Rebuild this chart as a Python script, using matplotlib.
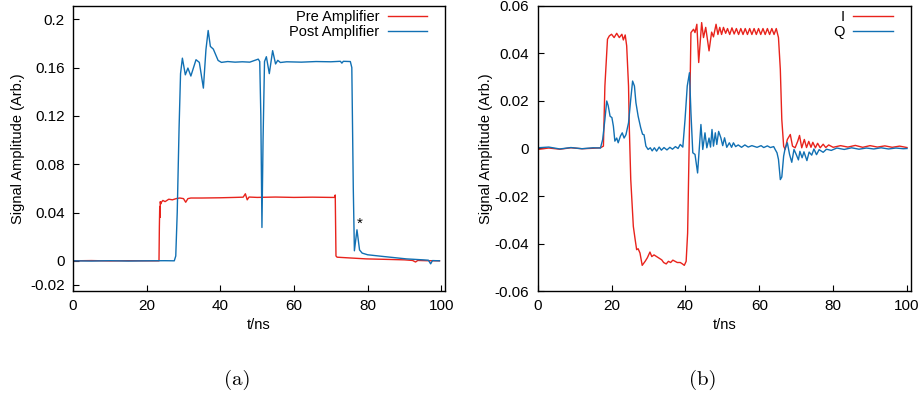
import matplotlib
matplotlib.use('Agg')
import matplotlib.pyplot as plt

plt.rcParams['font.family'] = ['Liberation Sans', 'DejaVu Sans']

# (a) pre / post amplifier: (t in ns, amplitude)
pre_pts = [(0, 0), (5, 0.0002), (10, -0.0001), (15, 0.0001), (20, 0), (23.35, 0),
           (23.45, 0.028), (23.55, 0.045), (23.62, 0.036), (23.7, 0.049), (23.8, 0.047),
           (24.0, 0.0485), (24.4, 0.050), (25.0, 0.049), (26.0, 0.051), (27.0, 0.0505),
           (28.0, 0.0515), (29.0, 0.052), (30.0, 0.0515), (30.6, 0.0485), (31.2, 0.0515),
           (32.0, 0.052), (35.0, 0.052), (40.0, 0.0522), (44.0, 0.0525), (46.2, 0.0527),
           (46.8, 0.0555), (47.3, 0.0505), (47.8, 0.0528), (50.0, 0.0525), (55.0, 0.0528),
           (60.0, 0.0525), (65.0, 0.0527), (70.0, 0.0525), (71.0, 0.0525), (71.2, 0.0545),
           (71.4, 0.004), (71.7, 0.003), (75.0, 0.0024), (79.6, 0.0016), (85.0, 0.0012),
           (90.0, 0.0008), (92.2, 0.0003), (93.0, -0.001), (93.6, 0.0003), (96.0, 0.0001),
           (99.5, 0)]

post_pts = [(0, 0), (5, -0.0002), (10, 0.0001), (15, -0.0002), (20, 0), (25, 0.0001),
            (27.5, 0), (27.9, 0.004), (28.3, 0.04), (28.8, 0.11), (29.2, 0.155),
            (29.7, 0.1678), (30.5, 0.154), (31.2, 0.1596), (32.0, 0.153), (33.4, 0.1665),
            (34.3, 0.1643), (35.4, 0.143), (36.1, 0.175), (36.7, 0.1907), (37.3, 0.1775),
            (38.1, 0.1753), (39.4, 0.1659), (40.3, 0.1643), (42.0, 0.165), (44.0, 0.1645),
            (46.0, 0.1648), (48.0, 0.1645), (50.3, 0.167), (50.7, 0.165), (51.0, 0.12),
            (51.3, 0.0276), (51.6, 0.10), (52.0, 0.165), (52.5, 0.169), (53.3, 0.155),
            (54.2, 0.174), (55.0, 0.163), (55.6, 0.166), (56.3, 0.1642), (58.0, 0.1648),
            (62.0, 0.1645), (66.0, 0.165), (70.0, 0.1648), (72.6, 0.1652), (73.0, 0.1637),
            (73.4, 0.1652), (75.3, 0.165), (75.7, 0.16), (76.1, 0.06), (76.4, 0.0083),
            (77.1, 0.0257), (77.8, 0.009), (78.5, 0.0064), (80.0, 0.005), (84.2, 0.0036),
            (90.5, 0.0016), (95.0, 0.0008), (96.5, 0.0005), (97.1, -0.0025), (97.6, 0.0002),
            (99.5, 0)]

# (b) I / Q channels
i_pts = [(0, -0.0004), (3, 0.0002), (6, -0.0003), (9, 0.0003), (12, -0.0001), (15, 0.0001),
         (17.0, 0.0003), (17.8, 0.001), (18.2, 0.0263), (18.9, 0.046), (19.4, 0.0474),
         (20.0, 0.0481), (20.7, 0.0467), (21.4, 0.0485), (22.1, 0.0467), (22.8, 0.0481),
         (23.2, 0.0457), (23.7, 0.0478), (24.1, 0.0432), (24.6, 0.0263), (24.8, 0.0094),
         (25.2, -0.013), (25.5, -0.0215), (25.9, -0.0328), (26.4, -0.0384), (26.8, -0.0426),
         (27.2, -0.0422), (27.7, -0.044), (28.3, -0.0492), (29.1, -0.0475), (29.7, -0.046),
         (30.4, -0.0436), (30.9, -0.0455), (31.5, -0.0448), (32.2, -0.0455), (32.9, -0.0462),
         (33.6, -0.0469), (34.1, -0.048), (34.8, -0.0486), (35.4, -0.0475), (36.0, -0.048),
         (36.6, -0.047), (37.2, -0.0475), (37.8, -0.048), (38.6, -0.048), (39.2, -0.0486),
         (39.7, -0.0492), (40.2, -0.0475), (40.6, -0.0356), (41.0, 0.0), (41.5, 0.0488),
         (42.2, 0.0502), (42.6, 0.0488), (43.1, 0.0523), (43.6, 0.0362), (44.4, 0.053),
         (44.9, 0.0467), (45.5, 0.051), (46.4, 0.0411), (47.1, 0.049), (47.6, 0.047),
         (48.3, 0.0523), (48.8, 0.048), (49.3, 0.051), (49.8, 0.048), (50.3, 0.051),
         (50.9, 0.0485), (51.4, 0.0505), (52.0, 0.048), (52.6, 0.0508), (53.2, 0.0482),
         (53.8, 0.0505), (54.4, 0.048), (55.0, 0.0505), (55.6, 0.048), (56.2, 0.0505),
         (56.8, 0.048), (57.4, 0.0505), (58.0, 0.048), (58.6, 0.0505), (59.2, 0.048),
         (59.8, 0.0505), (60.4, 0.048), (61.0, 0.0505), (61.6, 0.048), (62.2, 0.0505),
         (62.8, 0.048), (63.4, 0.0505), (64.0, 0.048), (64.6, 0.0505), (65.2, 0.0467),
         (65.7, 0.0333), (66.1, 0.0122), (66.6, 0.001), (67.0, -0.0004), (67.6, 0.0038),
         (68.4, 0.0059), (69.0, 0.001), (69.7, 0.0003), (70.4, 0.003), (70.9, 0.0055),
         (71.5, 0.0003), (72.2, 0.0038), (72.8, 0.0004), (73.4, 0.003), (74.0, 0.0005),
         (74.5, 0.0026), (75.2, 0.0003), (75.8, 0.0022), (76.5, 0.0003), (77.3, 0.0018),
         (78.0, 0.0004), (78.8, 0.0015), (80.0, 0.0005), (82.0, 0.0012), (84.0, 0.0006),
         (86.0, 0.0013), (88.0, 0.0005), (90.0, 0.0012), (92.0, 0.0006), (94.0, 0.0011),
         (96.0, 0.0005), (98.0, 0.0010), (100.0, 0.0004)]

q_pts = [(0, 0.0003), (3, 0.0006), (6, -0.0002), (9, 0.0004), (12, -0.0001), (15, 0.0003),
         (17.0, 0.0002), (17.6, 0.0038), (18.2, 0.0122), (18.7, 0.02), (19.1, 0.018),
         (19.6, 0.0136), (20.1, 0.013), (20.5, 0.0094), (20.9, 0.0031), (21.4, 0.0044),
         (21.8, 0.0024), (22.4, 0.0052), (22.9, 0.0066), (23.4, 0.0044), (23.9, 0.0058),
         (24.6, 0.0108), (25.2, 0.0207), (25.7, 0.0284), (26.2, 0.0263), (26.6, 0.0193),
         (27.2, 0.0136), (27.9, 0.0087), (28.4, 0.006), (28.8, 0.0058), (29.3, 0.001),
         (29.9, -0.0004), (30.5, 0.0003), (31.0, -0.001), (31.6, 0.0003), (32.2, -0.0011),
         (32.9, 0.0006), (33.5, -0.0007), (34.2, 0.0004), (35.0, -0.0006), (35.8, 0.0005),
         (36.5, -0.0003), (37.3, 0.0008), (38.0, 0.0), (38.6, 0.0017), (39.3, 0.0006),
         (39.9, 0.0122), (40.5, 0.0263), (41.1, 0.0319), (41.5, 0.015), (42.0, -0.0018),
         (42.6, -0.0025), (43.3, -0.0103), (43.8, 0.001), (44.2, 0.0101), (44.7, -0.0004),
         (45.3, 0.0066), (45.8, 0.0003), (46.4, 0.0044), (46.8, 0.0006), (47.2, 0.008),
         (47.6, 0.001), (48.1, 0.0066), (48.5, 0.0017), (49.0, 0.0072), (49.6, 0.0045),
         (50.1, 0.0012), (50.6, 0.0045), (51.2, 0.0005), (51.9, 0.0024), (52.5, 0.0005),
         (53.0, 0.0024), (53.6, 0.0008), (54.3, 0.0015), (55.2, 0.0005), (56.1, 0.0015),
         (57.0, 0.0006), (58.0, 0.0012), (59.4, 0.0005), (60.5, 0.0012), (61.2, 0.0004),
         (62.2, 0.0011), (63.0, 0.0004), (63.9, 0.0008), (64.3, -0.0004), (64.8, -0.0018),
         (65.2, -0.0046), (65.7, -0.0131), (66.1, -0.012), (66.6, -0.0032), (67.0, 0.0),
         (67.6, 0.0024), (68.2, -0.0025), (68.8, -0.0058), (69.4, -0.0004), (70.0, -0.0025),
         (70.6, -0.0048), (71.0, -0.0012), (71.6, -0.0039), (72.1, -0.0014), (72.9, -0.0051),
         (73.5, -0.0015), (74.2, -0.0028), (74.8, -0.0002), (75.5, -0.0026), (76.2, -0.0005),
         (77.3, -0.0016), (78.2, -0.0003), (79.5, -0.0008), (81.0, 0.0002), (83.0, -0.0004),
         (85.0, 0.0003), (87.0, -0.0003), (89.0, 0.0002), (91.0, -0.0002), (93.0, 0.0003),
         (95.0, -0.0002), (97.0, 0.0002), (99.0, -0.0001), (100.0, 0.0)]

a_yticks = [-0.02, 0, 0.04, 0.08, 0.12, 0.16, 0.2]
a_ylabels = ['-0.02', '0', '0.04', '0.08', '0.12', '0.16', '0.2']
b_yticks = [-0.06, -0.04, -0.02, 0, 0.02, 0.04, 0.06]
b_ylabels = ['-0.06', '-0.04', '-0.02', '0', '0.02', '0.04', '0.06']
xticks = [0, 20, 40, 60, 80, 100]

red = '#e8231c'
blue = '#1170b3'

fig = plt.figure(figsize=(9.24, 3.94), dpi=100)
ax1 = fig.add_axes([0.079, 0.2614, 0.4026, 0.7234])
ax2 = fig.add_axes([0.5819, 0.2614, 0.4037, 0.7234])


def xy(pts):
    return [p[0] for p in pts], [p[1] for p in pts]


ax1.plot(*xy(pre_pts), color=red, lw=1.0, label='Pre Amplifier')
ax1.plot(*xy(post_pts), color=blue, lw=1.0, label='Post Amplifier')
ax1.text(77.8, 0.031, '*', ha='center', va='center', fontsize=11)
ax1.set_ylim(-0.025, 0.211)
ax1.set_yticks(a_yticks)
ax1.set_yticklabels(a_ylabels)

ax2.plot(*xy(i_pts), color=red, lw=1.0, label='I')
ax2.plot(*xy(q_pts), color=blue, lw=1.0, label='Q')
ax2.set_ylim(-0.06, 0.06)
ax2.set_yticks(b_yticks)
ax2.set_yticklabels(b_ylabels)

for ax in (ax1, ax2):
    ax.set_xlim(0, 101)
    ax.set_xticks(xticks)
    ax.tick_params(direction='in', length=4.5, width=0.8, labelsize=11, pad=6,
                   top=False, right=False)
    for s in ax.spines.values():
        s.set_linewidth(1.0)
    ax.set_xlabel('t/ns', fontsize=10.5, labelpad=3)
    ax.set_ylabel('Signal Amplitude (Arb.)', fontsize=10.5)
    ax.legend(loc='upper right', bbox_to_anchor=(0.952, 0.985), frameon=False,
              markerfirst=False, fontsize=10.5, handlelength=2.7, handletextpad=0.6,
              labelspacing=0.05, borderpad=0, borderaxespad=0)

ax1.yaxis.set_label_coords(-0.130, 0.5)
ax2.yaxis.set_label_coords(-0.120, 0.5)

fig.text(237 / 924, 1 - 380 / 394, '(a)', ha='center', va='center', fontsize=15, family='cmr10')
fig.text(703 / 924, 1 - 380 / 394, '(b)', ha='center', va='center', fontsize=15, family='cmr10')

fig.savefig('out.png', dpi=100)
